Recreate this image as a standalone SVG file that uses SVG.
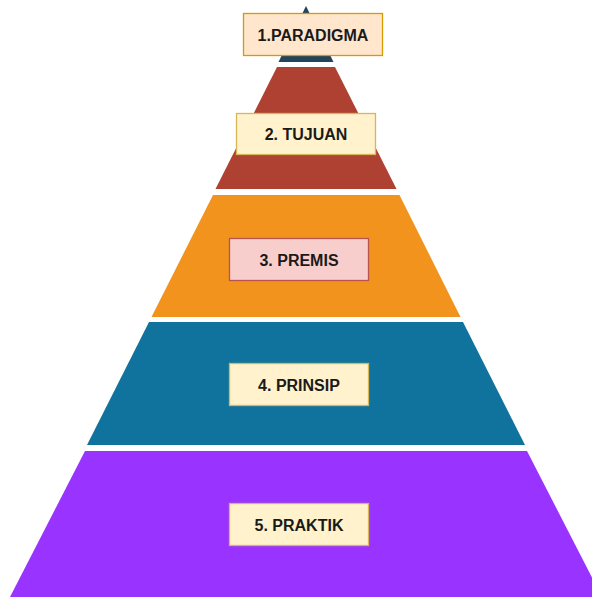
<svg xmlns="http://www.w3.org/2000/svg" width="592" height="597" viewBox="0 0 592 597">
<style>
.lbl{font-family:"Liberation Sans",Arial,Helvetica,sans-serif;font-weight:bold;font-size:16px;fill:#1a1a1a;text-anchor:middle}
.box{stroke-width:1.3}
.y{fill:#fff2cc;stroke:#d6b656}
</style>
<rect width="592" height="597" fill="#ffffff"/>
<g id="layer1"><polygon points="306,6 333.5,62 278.5,62" fill="#23445d"/></g>
<g id="layer2"><polygon points="277,67 335,67 396.5,189 215.5,189" fill="#ae4132"/></g>
<g id="layer3"><polygon points="213,195 399.5,195 460.5,317 151.5,317" fill="#f2931e"/></g>
<g id="layer4"><polygon points="149,322 463,322 525,445 87,445" fill="#10739e"/></g>
<g id="layer5"><polygon points="85,451 527,451 602,597 10,597" fill="#9933ff"/></g>
<g id="label1"><rect class="box" x="243.5" y="13.5" width="139" height="42" fill="#ffe6cc" stroke="#d79b00"/><text class="lbl" x="313" y="40.5">1.PARADIGMA</text></g>
<g id="label2"><rect class="box y" x="236.5" y="113.5" width="139" height="41"/><text class="lbl" x="306" y="139.5">2. TUJUAN</text></g>
<g id="label3"><rect class="box" x="229.5" y="238.5" width="139" height="42" fill="#f8cecc" stroke="#b85450"/><text class="lbl" x="299" y="265.5">3. PREMIS</text></g>
<g id="label4"><rect class="box y" x="229.5" y="363.5" width="139" height="42"/><text class="lbl" x="299" y="390.5">4. PRINSIP</text></g>
<g id="label5"><rect class="box y" x="229.5" y="503.5" width="139" height="42"/><text class="lbl" x="299" y="530.5">5. PRAKTIK</text></g>
<g id="connectors"></g>
</svg>
